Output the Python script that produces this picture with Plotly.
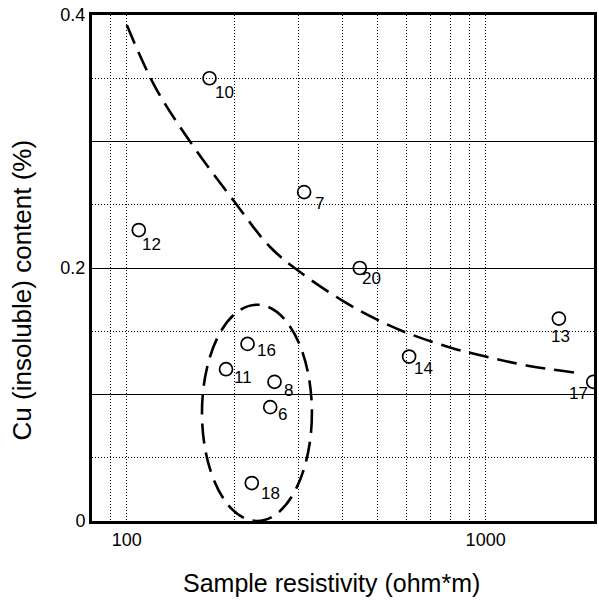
import math
import plotly.graph_objects as go

# sample points
labels = ["10", "12", "7", "20", "16", "11", "8", "6", "18", "14", "13", "17"]
resistivity = [170, 108, 312, 446, 217, 189, 258, 251, 223, 612, 1600, 1995]
cu_content = [0.35, 0.23, 0.26, 0.20, 0.14, 0.12, 0.11, 0.09, 0.03, 0.13, 0.16, 0.11]

# dashed trend curve
curve_x = [100, 120, 150, 200, 250, 300, 400, 500, 600, 800, 1000, 1300, 1800]
curve_y = [0.392, 0.343, 0.300, 0.252, 0.217, 0.198, 0.174, 0.159, 0.149, 0.137, 0.130, 0.123, 0.117]

# dashed ellipse bounds around the low-content cluster
ell_x0, ell_x1 = 162, 328
ell_y0, ell_y1 = 0.0, 0.171

x_grid = [90, 100, 200, 300, 400, 500, 600, 700, 800, 900, 1000]
x_ticktext = ["", "100", "", "", "", "", "", "", "", "", "1000"]
y_ticks = [0, 0.1, 0.2, 0.3, 0.4]
y_ticktext = ["0", "", "0.2", "", "0.4"]

# label placement (pixel offsets of the label's anchor from the marker centre)
lab_dx = [5, 3, 11, 2, 9, 8, 9, 8, 9, 5, 3, -3]
lab_dy = [8, 8, 5, 4, 0, 2, 2, 1, 4, 5, 11, 5]
lab_anchor = ["left"] * 10 + ["center", "right"]

FONT = "Liberation Sans, Arial, Helvetica"
DASH = "20px,9px"

fig = go.Figure()
fig.add_trace(go.Scatter(
    x=curve_x, y=curve_y, mode="lines", line_shape="spline",
    line=dict(color="black", width=2.6, dash=DASH),
    hoverinfo="skip", showlegend=False))
fig.add_trace(go.Scatter(
    x=resistivity, y=cu_content, mode="markers",
    marker=dict(symbol="circle-open", size=13, color="black", line=dict(width=1.7)),
    showlegend=False))

for lab, xv, yv, dx, dy, anc in zip(labels, resistivity, cu_content, lab_dx, lab_dy, lab_anchor):
    fig.add_annotation(
        x=math.log10(xv), y=yv, xref="x", yref="y", text=lab, showarrow=False,
        xanchor=anc, yanchor="top", xshift=dx - 1, yshift=-(dy - 4), borderpad=0,
        font=dict(family=FONT, size=17, color="black"))

fig.add_shape(type="circle", xref="x", yref="y",
              x0=ell_x0, x1=ell_x1, y0=ell_y0, y1=ell_y1,
              line=dict(color="black", width=2.6, dash=DASH))

fig.update_xaxes(
    type="log", range=[1.903, 3.302],
    tickvals=x_grid, ticktext=x_ticktext,
    tickfont=dict(family=FONT, size=18, color="black"),
    showgrid=True, gridcolor="black", gridwidth=1.2, griddash="1px,2px",
    showline=True, linecolor="black", linewidth=3, mirror=True,
    ticks="", zeroline=False)
fig.update_yaxes(
    range=[0, 0.4], tickvals=y_ticks, ticktext=y_ticktext,
    tickfont=dict(family=FONT, size=18, color="black"),
    showgrid=True, gridcolor="black", gridwidth=1,
    minor=dict(dtick=0.05, tick0=0, showgrid=True, gridcolor="black",
               griddash="1px,2px", gridwidth=1.2, ticks=""),
    showline=True, linecolor="black", linewidth=3, mirror=True,
    ticks="", zeroline=False)

fig.add_annotation(
    text="Sample resistivity (ohm*m)", xref="paper", yref="paper",
    x=0.478, y=-0.1225, showarrow=False, xanchor="center", yanchor="middle",
    font=dict(family=FONT, size=25, color="black"))
fig.add_annotation(
    text="Cu (insoluble) content (%)", xref="paper", yref="paper",
    x=-0.1386, y=0.4565, showarrow=False, xanchor="center", yanchor="middle",
    textangle=-90, font=dict(family=FONT, size=26, color="black"))

fig.update_layout(
    width=599, height=604,
    margin=dict(l=92, r=2, t=15, b=83),
    plot_bgcolor="white", paper_bgcolor="white",
    showlegend=False)

fig.write_html("out.html")
